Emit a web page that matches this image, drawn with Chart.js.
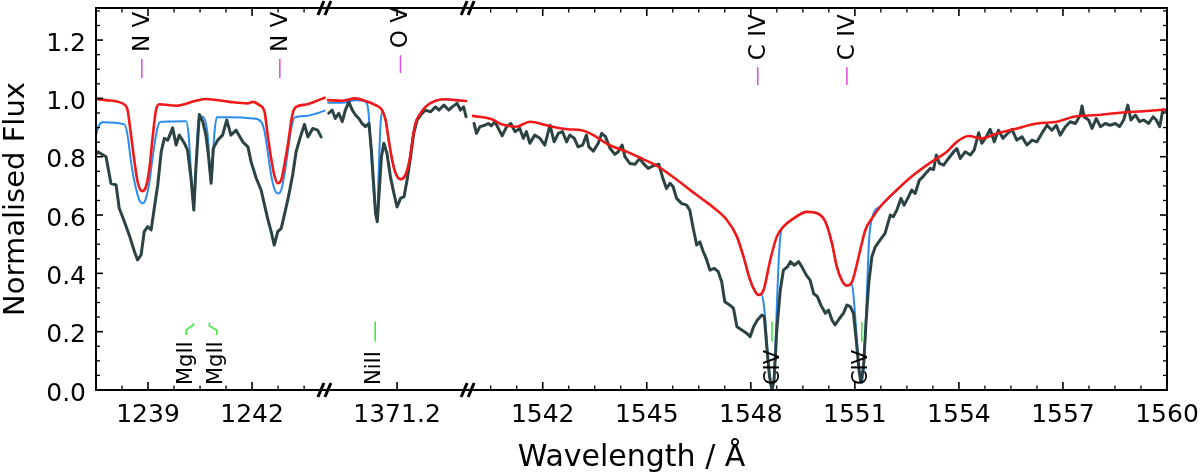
<!DOCTYPE html>
<html><head><meta charset="utf-8">
<script src="https://cdn.jsdelivr.net/npm/chart.js@4/dist/chart.umd.min.js"></script>
<style>html,body{margin:0;padding:0;background:#fff;}canvas{display:block;}</style>
</head><body>
<canvas id="c" width="1200" height="474"></canvas>
<script>
// ---------------- DATA (wavelength in Å, normalised flux) ----------------
// Observed spectrum (dark grey), one array per axis segment
const observed1 = [[1237.51,0.810],[1237.55,0.817],[1237.79,0.800],[1237.93,0.709],[1238.08,0.703],[1238.17,0.623],[1238.32,0.577],[1238.46,0.531],[1238.61,0.474],[1238.70,0.446],
[1238.80,0.463],[1238.89,0.543],[1238.99,0.560],[1239.09,0.549],[1239.18,0.623],[1239.28,0.703],[1239.38,0.817],[1239.47,0.863],[1239.57,0.857],[1239.71,0.899],
[1239.81,0.840],[1239.90,0.874],[1240.05,0.846],[1240.14,0.823],[1240.24,0.726],[1240.32,0.617],[1240.38,0.760],[1240.48,0.945],[1240.58,0.920],[1240.67,0.874],
[1240.74,0.806],[1240.82,0.709],[1240.88,0.828],[1241.01,0.857],[1241.15,0.874],[1241.27,0.926],[1241.39,0.874],[1241.54,0.891],[1241.73,0.851],[1241.88,0.834],
[1241.97,0.783],[1242.12,0.726],[1242.26,0.686],[1242.36,0.634],[1242.45,0.588],[1242.55,0.543],[1242.64,0.497],[1242.74,0.543],[1242.84,0.554],[1242.93,0.600],
[1243.06,0.669],[1243.17,0.737],[1243.27,0.817],[1243.38,0.863],[1243.51,0.911],[1243.61,0.868],[1243.75,0.897],[1243.89,0.891],[1243.99,0.868]];
const observed2 = [[1369.23,0.949],[1369.33,0.960],[1369.42,0.931],[1369.52,0.949],[1369.62,0.920],[1369.71,0.960],[1369.81,0.988],[1369.91,0.960],[1370.00,0.943],[1370.10,0.931],
[1370.19,0.914],[1370.29,0.903],[1370.39,0.914],[1370.46,0.823],[1370.53,0.697],[1370.58,0.606],[1370.63,0.577],[1370.67,0.651],[1370.75,0.800],[1370.82,0.846],
[1370.91,0.811],[1371.01,0.731],[1371.11,0.674],[1371.20,0.628],[1371.30,0.657],[1371.40,0.663],[1371.49,0.720],[1371.59,0.800],[1371.68,0.880],[1371.78,0.926],
[1371.88,0.943],[1372.02,0.960],[1372.17,0.954],[1372.31,0.971],[1372.41,0.960],[1372.55,0.977],[1372.69,0.960],[1372.79,0.971],[1372.93,0.983],[1373.03,0.960],
[1373.12,0.971],[1373.19,0.937]];
const observed3 = [[1540.02,0.914],[1540.09,0.880],[1540.19,0.903],[1540.33,0.908],[1540.43,0.914],[1540.52,0.906],[1540.62,0.920],[1540.72,0.897],[1540.83,0.872],[1540.96,0.903],
[1541.08,0.914],[1541.20,0.886],[1541.34,0.897],[1541.44,0.863],[1541.53,0.886],[1541.63,0.846],[1541.77,0.874],[1541.92,0.863],[1542.06,0.840],[1542.21,0.908],
[1542.33,0.851],[1542.45,0.880],[1542.57,0.886],[1542.69,0.851],[1542.78,0.874],[1542.91,0.863],[1543.02,0.834],[1543.15,0.840],[1543.26,0.874],[1543.33,0.834],
[1543.46,0.819],[1543.60,0.846],[1543.70,0.880],[1543.81,0.869],[1543.94,0.829],[1544.08,0.808],[1544.18,0.817],[1544.29,0.840],[1544.37,0.800],[1544.51,0.777],
[1544.66,0.774],[1544.80,0.794],[1544.90,0.777],[1545.04,0.760],[1545.19,0.769],[1545.35,0.774],[1545.48,0.720],[1545.57,0.691],[1545.67,0.709],[1545.76,0.697],
[1545.86,0.657],[1546.00,0.640],[1546.15,0.634],[1546.24,0.617],[1546.34,0.554],[1546.44,0.497],[1546.53,0.508],[1546.63,0.474],[1546.73,0.446],[1546.82,0.411],
[1546.95,0.417],[1547.06,0.406],[1547.16,0.371],[1547.25,0.303],[1547.40,0.291],[1547.50,0.280],[1547.60,0.217],[1547.74,0.206],[1547.89,0.194],[1547.98,0.183],
[1548.08,0.217],[1548.19,0.240],[1548.32,0.257],[1548.39,0.251],[1548.46,0.149],[1548.54,0.046],[1548.61,0.000],[1548.67,0.034],[1548.75,0.206],[1548.85,0.343],
[1548.94,0.411],[1549.06,0.423],[1549.14,0.440],[1549.25,0.428],[1549.38,0.440],[1549.47,0.423],[1549.60,0.394],[1549.71,0.377],[1549.81,0.331],[1549.92,0.320],
[1550.02,0.291],[1550.15,0.263],[1550.24,0.274],[1550.34,0.240],[1550.43,0.223],[1550.56,0.246],[1550.67,0.263],[1550.77,0.291],[1550.87,0.286],[1550.96,0.263],
[1551.04,0.171],[1551.12,0.068],[1551.17,0.028],[1551.25,0.080],[1551.32,0.228],[1551.40,0.366],[1551.49,0.457],[1551.59,0.491],[1551.73,0.515],[1551.87,0.537],
[1552.02,0.600],[1552.11,0.594],[1552.21,0.617],[1552.33,0.657],[1552.42,0.634],[1552.55,0.663],[1552.64,0.686],[1552.74,0.674],[1552.86,0.720],[1552.96,0.731],
[1553.08,0.748],[1553.17,0.760],[1553.27,0.756],[1553.35,0.806],[1553.44,0.777],[1553.56,0.771],[1553.70,0.794],[1553.85,0.817],[1553.94,0.828],[1554.04,0.794],
[1554.18,0.817],[1554.33,0.806],[1554.44,0.823],[1554.57,0.882],[1554.66,0.846],[1554.79,0.868],[1554.90,0.894],[1555.02,0.851],[1555.14,0.891],[1555.27,0.863],
[1555.38,0.877],[1555.53,0.894],[1555.67,0.857],[1555.82,0.868],[1555.96,0.840],[1556.11,0.857],[1556.25,0.851],[1556.39,0.880],[1556.54,0.908],[1556.68,0.891],
[1556.81,0.908],[1556.92,0.874],[1557.07,0.903],[1557.21,0.920],[1557.36,0.914],[1557.50,0.943],[1557.55,0.974],[1557.61,0.937],[1557.74,0.926],[1557.84,0.897],
[1557.96,0.931],[1558.08,0.903],[1558.22,0.914],[1558.36,0.908],[1558.51,0.914],[1558.63,0.903],[1558.75,0.926],[1558.87,0.977],[1558.96,0.926],[1559.09,0.943],
[1559.21,0.920],[1559.33,0.926],[1559.47,0.914],[1559.60,0.937],[1559.69,0.926],[1559.79,0.903],[1559.88,0.960],[1559.98,0.958]];

// Model with interstellar lines (blue)
const modelIsm1 = [[1237.50,0.874],[1237.58,0.906],[1237.69,0.918],[1238.32,0.911],[1238.41,0.874],[1238.51,0.783],[1238.61,0.714],[1238.75,0.651],[1238.85,0.640],[1238.94,0.657],
[1239.04,0.714],[1239.13,0.794],[1239.23,0.874],[1239.33,0.918],[1239.42,0.920],[1240.10,0.922],[1240.17,0.874],[1240.24,0.748],[1240.32,0.623],[1240.38,0.760],
[1240.46,0.931],[1240.58,0.937],[1240.72,0.874],[1240.82,0.709],[1240.91,0.874],[1240.98,0.935],[1241.35,0.935],[1242.02,0.931],[1242.26,0.920],[1242.36,0.886],
[1242.45,0.817],[1242.55,0.737],[1242.64,0.691],[1242.74,0.674],[1242.84,0.686],[1242.93,0.737],[1243.03,0.817],[1243.13,0.897],[1243.22,0.934],[1243.56,0.940],
[1243.85,0.948],[1244.09,0.958]];
const modelIsm2 = [[1369.21,0.985],[1369.62,0.985],[1370.00,0.994],[1370.29,0.989],[1370.37,0.960],[1370.43,0.857],[1370.50,0.720],[1370.58,0.617],[1370.63,0.606],[1370.67,0.743],
[1370.72,0.903],[1370.77,0.954],[1370.87,0.926],[1370.96,0.857],[1371.06,0.788],[1371.16,0.743],[1371.30,0.723],[1371.44,0.737],[1371.56,0.788],[1371.66,0.869],
[1371.73,0.914],[1371.88,0.949],[1372.02,0.971],[1372.31,0.992],[1372.60,0.997],[1372.89,0.994],[1373.19,0.991]];
const modelIsm3 = [[1547.60,0.526],[1547.79,0.457],[1547.98,0.377],[1548.13,0.337],[1548.22,0.326],[1548.30,0.328],[1548.37,0.297],[1548.44,0.206],[1548.51,0.091],[1548.58,0.011],
[1548.64,0.006],[1548.69,0.091],[1548.75,0.286],[1548.81,0.457],[1548.87,0.543],[1548.94,0.560],[1549.23,0.588],[1549.62,0.611],[1549.91,0.606],[1550.15,0.577],
[1550.34,0.503],[1550.48,0.423],[1550.63,0.375],[1550.77,0.358],[1550.92,0.362],[1550.98,0.297],[1551.06,0.171],[1551.14,0.057],[1551.20,0.023],[1551.27,0.103],
[1551.35,0.343],[1551.41,0.514],[1551.49,0.588],[1551.75,0.631],[1552.21,0.686]];

// Stellar model without interstellar lines (red)
const modelStar1 = [[1237.50,0.998],[1237.79,0.994],[1238.32,0.979],[1238.41,0.960],[1238.51,0.874],[1238.61,0.783],[1238.70,0.714],[1238.83,0.682],[1238.94,0.697],[1239.04,0.760],
[1239.13,0.863],[1239.23,0.960],[1239.33,0.980],[1239.81,0.975],[1240.38,0.992],[1240.67,0.998],[1241.35,0.988],[1241.88,0.983],[1242.02,0.988],[1242.21,0.977],
[1242.36,0.954],[1242.45,0.874],[1242.55,0.794],[1242.64,0.737],[1242.74,0.709],[1242.84,0.720],[1242.93,0.771],[1243.03,0.840],[1243.17,0.948],[1243.27,0.971],
[1243.56,0.979],[1243.85,0.991],[1244.09,1.002]];
const modelStar2 = [[1369.21,0.994],[1369.62,0.992],[1370.00,1.000],[1370.29,0.991],[1370.58,0.977],[1370.77,0.960],[1370.87,0.926],[1370.96,0.857],[1371.06,0.788],[1371.16,0.743],
[1371.30,0.723],[1371.44,0.737],[1371.56,0.788],[1371.66,0.869],[1371.73,0.914],[1371.88,0.949],[1372.02,0.971],[1372.31,0.992],[1372.60,0.997],[1372.89,0.994],
[1373.19,0.991]];
const modelStar3 = [[1539.99,0.940],[1540.52,0.929],[1540.81,0.911],[1541.24,0.903],[1541.63,0.920],[1542.16,0.906],[1542.73,0.894],[1543.12,0.891],[1543.46,0.874],[1543.89,0.842],
[1544.47,0.815],[1544.85,0.794],[1545.33,0.766],[1545.81,0.726],[1546.29,0.682],[1546.60,0.655],[1546.92,0.626],[1547.31,0.583],[1547.60,0.526],[1547.79,0.457],
[1547.98,0.377],[1548.13,0.337],[1548.22,0.326],[1548.37,0.343],[1548.56,0.446],[1548.75,0.526],[1548.94,0.560],[1549.23,0.588],[1549.62,0.611],[1549.91,0.606],
[1550.15,0.577],[1550.34,0.503],[1550.48,0.423],[1550.63,0.375],[1550.77,0.358],[1550.92,0.371],[1551.11,0.457],[1551.30,0.548],[1551.49,0.588],[1551.75,0.631],
[1552.21,0.686],[1552.69,0.737],[1553.17,0.779],[1553.65,0.817],[1553.94,0.851],[1554.28,0.871],[1554.66,0.863],[1555.10,0.880],[1555.58,0.894],[1556.25,0.914],
[1556.83,0.920],[1557.31,0.937],[1557.98,0.943],[1558.65,0.951],[1559.33,0.956],[1560.00,0.962]];

// Axis segments (broken wavelength axis) and tick labels
const segRange = [[1237.5, 1244.1], [1369.12, 1373.25], [1539.85, 1560.0]];
const xTickWave  = [1239, 1242, 1371.2, 1542, 1545, 1548, 1551, 1554, 1557, 1560];
const xTickSeg   = [0, 0, 1, 2, 2, 2, 2, 2, 2, 2];
const xTickLabel = ['1239', '1242', '1371.2', '1542', '1545', '1548', '1551', '1554', '1557', '1560'];
const xMinorWave = [1238.25, 1239.75, 1240.5, 1241.25, 1242.75, 1243.5,
  1540.5, 1541.25, 1542.75, 1543.5, 1544.25, 1545.75, 1546.5, 1547.25, 1548.75, 1549.5, 1550.25,
  1551.75, 1552.5, 1553.25, 1554.75, 1555.5, 1556.25, 1557.75, 1558.5, 1559.25];
const xMinorSeg  = [0,0,0,0,0,0, 2,2,2,2,2,2,2,2,2,2,2,2,2,2,2,2,2,2,2,2];
const yTickValues = [0.0, 0.2, 0.4, 0.6, 0.8, 1.0, 1.2];

// Line identifications
const stellarIon  = ['N V', 'N V', 'O V', 'C IV', 'C IV'];
const stellarWave = [1238.82, 1242.80, 1371.30, 1548.20, 1550.77];
const stellarSeg  = [0, 0, 1, 2, 2];
const ismIon  = ['MgII', 'MgII', 'NiII', 'CIV', 'CIV'];
const ismWave = [1240.04, 1240.90, 1370.50, 1548.58, 1551.13];
const ismSeg  = [0, 0, 1, 2, 2];
const ismMarkWave = [1240.20, 1240.88, 1370.57, 1548.61, 1551.20];

// ---------------- CHART ----------------
const segStart = []; let acc = 0;
segRange.forEach(r => { segStart.push(acc); acc += r[1] - r[0]; });
const uMax = acc;
const toU = (w, s) => segStart[s] + (w - segRange[s][0]);

const GREY = '#2c4343', BLUE = '#2a8cf0', RED = '#f21818';
const MAG = '#d955dd', GRN = '#3ee83e';
function ds(arr, seg, color, width, order, smooth) {
  return {
    data: arr.map(p => ({x: toU(p[0], seg), y: p[1]})),
    borderColor: color, borderWidth: width, order: order,
    pointRadius: 0, fill: false, tension: 0,
    cubicInterpolationMode: smooth ? 'monotone' : 'default',
    borderJoinStyle: 'round', borderCapStyle: 'round'
  };
}
const datasets = [
  ds(modelIsm1, 0, BLUE, 2, 3, true), ds(modelIsm2, 1, BLUE, 2, 3, true), ds(modelIsm3, 2, BLUE, 2, 3, true),
  ds(observed1, 0, GREY, 3, 2, false), ds(observed2, 1, GREY, 3, 2, false), ds(observed3, 2, GREY, 3, 2, false),
  ds(modelStar1, 0, RED, 2.6, 1, true), ds(modelStar2, 1, RED, 2.6, 1, true), ds(modelStar3, 2, RED, 2.6, 1, true)
];

const FAMILY = 'DejaVu Sans';
Chart.defaults.font.family = FAMILY;
Chart.defaults.color = '#000';
const F = size => size + 'px "' + FAMILY + '"';

const deco = {
  id: 'deco',
  afterDraw(chart) {
    const {ctx, chartArea: a, scales: {x, y}} = chart;
    const X = (w, s) => x.getPixelForValue(toU(w, s));
    const Y = v => y.getPixelForValue(v);
    const line = (x1, y1, x2, y2) => { ctx.beginPath(); ctx.moveTo(x1, y1); ctx.lineTo(x2, y2); ctx.stroke(); };
    ctx.save();
    ctx.strokeStyle = '#000'; ctx.lineCap = 'butt';
    // x ticks inward on bottom and top
    ctx.lineWidth = 1.6;
    xTickWave.forEach((w, i) => { const px = X(w, xTickSeg[i]); line(px, a.bottom, px, a.bottom - 8); line(px, a.top, px, a.top + 8); });
    ctx.lineWidth = 1.3;
    xMinorWave.forEach((w, i) => { const px = X(w, xMinorSeg[i]); line(px, a.bottom, px, a.bottom - 4.5); line(px, a.top, px, a.top + 4.5); });
    // y ticks inward on left and right
    for (let k = 0; k <= 26; k++) {
      const v = k * 0.05; const py = Y(v); const major = (k % 4 === 0);
      ctx.lineWidth = major ? 1.6 : 1.3; const len = major ? 7 : 4;
      line(a.left, py, a.left + len, py); line(a.right, py, a.right - len, py);
    }
    // frame
    ctx.lineWidth = 2;
    ctx.strokeRect(a.left, a.top, a.right - a.left, a.bottom - a.top);
    // axis break symbols
    ctx.lineWidth = 3;
    [segStart[1], segStart[2]].forEach(u => {
      const cx = x.getPixelForValue(u);
      [a.top, a.bottom].forEach(yy => {
        line(cx - 7, yy + 7, cx - 1, yy - 7);
        line(cx, yy + 7, cx + 6, yy - 7);
      });
    });
    // tick labels
    ctx.fillStyle = '#000';
    ctx.font = F(25);
    ctx.textAlign = 'center'; ctx.textBaseline = 'alphabetic';
    xTickWave.forEach((w, i) => ctx.fillText(xTickLabel[i], X(w, xTickSeg[i]), a.bottom + 31.5));
    ctx.textAlign = 'right';
    yTickValues.forEach(v => ctx.fillText(v.toFixed(1), a.left - 10, Y(v) + 10.5));
    // rotated label helper (reads bottom to top)
    const vtext = (txt, cx, yBottom, size) => {
      ctx.save();
      ctx.font = F(size); ctx.fillStyle = '#000';
      ctx.textAlign = 'left'; ctx.textBaseline = 'alphabetic';
      ctx.translate(cx, yBottom); ctx.rotate(-Math.PI / 2);
      ctx.fillText(txt, 0, size * 0.365);
      ctx.restore();
    };
    // stellar line identifications
    const topText = [1.159, 1.159, 1.172, 1.131, 1.131];
    const topLo = [1.070, 1.070, 1.087, 1.046, 1.046];
    const topHi = [1.135, 1.135, 1.148, 1.107, 1.107];
    stellarIon.forEach((t, i) => {
      const px = X(stellarWave[i], stellarSeg[i]);
      ctx.strokeStyle = MAG; ctx.lineWidth = 1.6;
      line(px, Y(topLo[i]), px, Y(topHi[i]));
      vtext(t, px - 1.5, Y(topText[i]), 23);
    });
    // interstellar line identifications
    ctx.strokeStyle = GRN; ctx.lineWidth = 1.6;
    const poly = pts => { ctx.beginPath(); pts.forEach((p, k) => { const px = X(p[0], 0), py = Y(p[1]); k ? ctx.lineTo(px, py) : ctx.moveTo(px, py); }); ctx.stroke(); };
    poly([[1240.10, 0.189], [1240.10, 0.206], [1240.31, 0.223], [1240.31, 0.231]]);
    poly([[1240.77, 0.231], [1240.77, 0.219], [1240.98, 0.206], [1240.98, 0.189]]);
    [2, 3, 4].forEach(i => {
      const px = X(ismMarkWave[i], ismSeg[i]);
      line(px, Y(0.166), px, Y(0.234));
    });
    ismIon.forEach((t, i) => vtext(t, X(ismWave[i], ismSeg[i]), Y(0.017), 21));
    // axis titles
    ctx.fillStyle = '#000';
    ctx.font = F(29);
    ctx.save();
    ctx.translate(13.5, (a.top + a.bottom) / 2); ctx.rotate(-Math.PI / 2);
    ctx.textAlign = 'center'; ctx.textBaseline = 'alphabetic';
    ctx.fillText('Normalised Flux', 0, 29 * 0.365);
    ctx.restore();
    ctx.font = F(30);
    ctx.textAlign = 'center'; ctx.textBaseline = 'alphabetic';
    ctx.fillText('Wavelength / Å', (a.left + a.right) / 2, 466);
    ctx.restore();
  }
};

new Chart(document.getElementById('c'), {
  type: 'line',
  data: {datasets},
  options: {
    responsive: false, animation: false, devicePixelRatio: 1,
    layout: {padding: {left: 0, right: 33, top: 8, bottom: 0}},
    plugins: {legend: {display: false}, tooltip: {enabled: false}},
    scales: {
      x: {
        type: 'linear', min: 0, max: uMax,
        grid: {display: false, drawTicks: false}, border: {display: false},
        afterBuildTicks: s => { s.ticks = xTickWave.map((w, i) => ({value: toU(w, xTickSeg[i])})); },
        ticks: {display: false},
        afterFit: s => { s.height = 84; s.paddingLeft = 0; s.paddingRight = 0; }
      },
      y: {
        type: 'linear', min: 0, max: 1.31,
        grid: {display: false, drawTicks: false}, border: {display: false},
        afterBuildTicks: s => { s.ticks = yTickValues.map(v => ({value: v})); },
        ticks: {display: false},
        afterFit: s => { s.width = 96; s.paddingTop = 0; s.paddingBottom = 0; }
      }
    }
  },
  plugins: [deco]
});
</script>
</body></html>
